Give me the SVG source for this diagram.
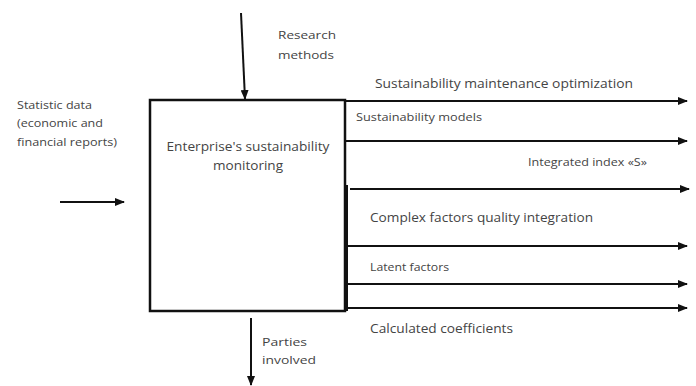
<svg xmlns="http://www.w3.org/2000/svg" width="696" height="386" viewBox="0 0 696 386">
<style>
.t{font-family:"Open Sans","Liberation Sans",sans-serif;font-size:12px;fill:#444}
.s{font-size:11px}
.ln{stroke:#111;stroke-width:2;fill:none}
</style>
<defs>
<marker id="ah" markerUnits="userSpaceOnUse" markerWidth="10" markerHeight="8" refX="9" refY="4" orient="auto">
<path d="M0,0 L10,4 L0,8 Z" fill="#111"/>
</marker>
</defs>
<rect width="696" height="386" fill="#fff"/>
<g id="monitoring">
<rect x="150" y="100" width="195" height="211" fill="#fff" stroke="#111" stroke-width="2.5"/>
<text class="t" x="248" y="151" text-anchor="middle" textLength="163" lengthAdjust="spacingAndGlyphs">Enterprise's sustainability</text>
<text class="t" x="248" y="170" text-anchor="middle" textLength="70" lengthAdjust="spacingAndGlyphs">monitoring</text>
</g>
<g id="input-label">
<text class="t s" x="17" y="109" textLength="75" lengthAdjust="spacingAndGlyphs">Statistic data</text>
<text class="t s" x="17" y="127" textLength="86" lengthAdjust="spacingAndGlyphs">(economic and</text>
<text class="t s" x="17" y="146" textLength="100" lengthAdjust="spacingAndGlyphs">financial reports)</text>
</g>
<g id="control-label">
<text class="t s" x="278" y="39" textLength="58" lengthAdjust="spacingAndGlyphs">Research</text>
<text class="t s" x="278" y="59" textLength="56" lengthAdjust="spacingAndGlyphs">methods</text>
</g>
<g id="mechanism-label">
<text class="t s" x="262" y="346" textLength="45" lengthAdjust="spacingAndGlyphs">Parties</text>
<text class="t s" x="262" y="364" textLength="54" lengthAdjust="spacingAndGlyphs">involved</text>
</g>
<g id="output-labels">
<text class="t" x="375" y="88" textLength="258" lengthAdjust="spacingAndGlyphs">Sustainability maintenance optimization</text>
<text class="t s" x="356" y="121" textLength="126" lengthAdjust="spacingAndGlyphs">Sustainability models</text>
<text class="t s" x="528" y="166" textLength="119" lengthAdjust="spacingAndGlyphs">Integrated index «S»</text>
<text class="t" x="370" y="222" textLength="223" lengthAdjust="spacingAndGlyphs">Complex factors quality integration</text>
<text class="t s" x="370" y="271" textLength="79" lengthAdjust="spacingAndGlyphs">Latent factors</text>
<text class="t" x="370" y="333" textLength="143" lengthAdjust="spacingAndGlyphs">Calculated coefficients</text>
</g>
<g id="connectors">
<line class="ln" x1="60" y1="202" x2="124" y2="202" marker-end="url(#ah)"/>
<line class="ln" x1="241" y1="13" x2="245" y2="99" marker-end="url(#ah)"/>
<line class="ln" x1="251" y1="318" x2="251" y2="385" marker-end="url(#ah)"/>
<line class="ln" x1="347" y1="185" x2="347" y2="311"/>
<line class="ln" x1="345" y1="101" x2="687" y2="101" marker-end="url(#ah)"/>
<line class="ln" x1="345" y1="141" x2="687" y2="141" marker-end="url(#ah)"/>
<line class="ln" x1="350" y1="189" x2="689" y2="189" marker-end="url(#ah)"/>
<line class="ln" x1="345" y1="246" x2="687" y2="246" marker-end="url(#ah)"/>
<line class="ln" x1="345" y1="284" x2="687" y2="284" marker-end="url(#ah)"/>
<line class="ln" x1="345" y1="308" x2="687" y2="308" marker-end="url(#ah)"/>
</g>
</svg>
